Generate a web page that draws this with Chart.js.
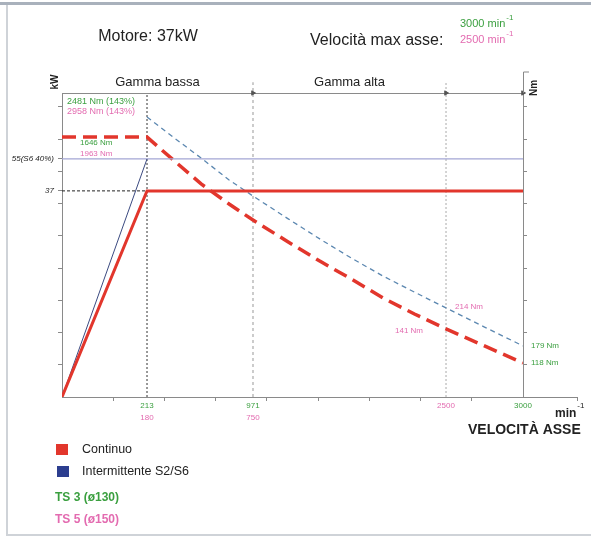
<!DOCTYPE html>
<html>
<head>
<meta charset="utf-8">
<script src="https://cdn.jsdelivr.net/npm/chart.js@4.4.0/dist/chart.umd.min.js"></script>
<style>
  html, body { margin: 0; padding: 0; background: #fff; }
  canvas { display: block; }
</style>
</head>
<body>
<canvas id="chart" width="591" height="537"></canvas>
<script>
// Testi
const motorLabel = "Motore: 37kW";
const maxSpeedLabel = "Velocità max asse:";
const maxSpeedTs3 = "3000 min";
const maxSpeedTs5 = "2500 min";
const rangeNames = ["Gamma bassa", "Gamma alta"];
const axisTitle = "VELOCITÀ ASSE";
const legendItems = ["Continuo", "Intermittente S2/S6"];
const seriesNames = ["TS 3 (ø130)", "TS 5 (ø150)"];

// Potenza (kW) in funzione della velocità (min-1)
const powerSpeed = [0, 213, 3000];
const powerCont = [0, 37, 37];
const powerS6 = [0, 55, 55];
const kwTicks = [37, 55];
const kwTickLabels = ["37", "55(S6 40%)"];

// Coppia (schema, % dell'altezza asse Nm)
const torqueSpeed = [0, 213, 400, 600, 800, 971, 1250, 1500, 1750, 2000, 2250, 2500, 2750, 3000];
const torqueCont = [85.5, 85.5, 78.0, 70.1, 63.5, 58.2, 51.0, 44.7, 38.8, 32.6, 27.3, 22.4, 16.8, 11.2];
const torqueS6 = [null, 92.1, 85.5, 78.6, 71.4, 66.1, 58.6, 52.0, 45.7, 39.8, 34.5, 29.3, 23.0, 16.8];

// Velocità notevoli
const rangeSpeeds = [213, 971, 2500, 3000];
const ts3SpeedAt = [213, 971, 3000];
const ts3SpeedLabels = ["213", "971", "3000"];
const ts5SpeedAt = [213, 971, 2500];
const ts5SpeedLabels = ["180", "750", "2500"];
const ts3Torque = ["2481 Nm (143%)", "1646 Nm", "179 Nm", "118 Nm"];
const ts5Torque = ["2958 Nm (143%)", "1963 Nm", "214 Nm", "141 Nm"];

const green = "#3a9f3f";
const pink = "#e36bb0";
const red = "#e2362c";
const font = "'Liberation Sans', Arial, sans-serif";

// scala a tratti (il disegno originale non è in scala)
const scaleBreaks = {
  x: { values: [0, 213, 971, 2500, 3000], decimals: [0, 0.1844, 0.4143, 0.833, 1] },
  y: { values: [0, 37, 55, 92], decimals: [0, 0.678, 0.783, 1] }
};

function interp(from, to, v) {
  let i = 1;
  while (i < from.length - 1 && v > from[i]) i++;
  return to[i - 1] + (v - from[i - 1]) * (to[i] - to[i - 1]) / (from[i] - from[i - 1]);
}

class SchemaScale extends Chart.LinearScale {
  getPixelForValue(value) {
    const b = scaleBreaks[this.id];
    return this.getPixelForDecimal(interp(b.values, b.decimals, value));
  }
  getValueForPixel(pixel) {
    const b = scaleBreaks[this.id];
    return interp(b.decimals, b.values, this.getDecimalForPixel(pixel));
  }
}
SchemaScale.id = "schema";
SchemaScale.defaults = Chart.LinearScale.defaults;
Chart.register(SchemaScale);

const xy = (xs, ys) => xs.map((v, i) => ({ x: v, y: ys[i] }));
const xMinor = [1, 2, 3, 4, 5, 6, 7, 8].map(k => k / 9);
const yMinor = [1, 2, 3, 4, 5, 6, 7, 8, 9].map(k => k * 0.106);

function text(ctx, s, x, y, size, color, align, weight) {
  ctx.font = (weight || "normal") + " " + size + "px " + font;
  ctx.fillStyle = color;
  ctx.textAlign = align || "left";
  ctx.fillText(s, x, y);
  return ctx.measureText(s).width;
}

const extras = {
  id: "extras",
  afterDraw(chart) {
    const { ctx, chartArea: a, scales } = chart;
    const X = v => scales.x.getPixelForValue(v);
    const Y2 = v => scales.y2.getPixelForValue(v);
    ctx.save();
    ctx.textBaseline = "middle";

    // cornice
    ctx.fillStyle = "#a9b1bc";
    ctx.fillRect(0, 2, 591, 3);
    ctx.strokeStyle = "#cfd3d8";
    ctx.lineWidth = 2;
    ctx.beginPath();
    ctx.moveTo(7, 5); ctx.lineTo(7, 535); ctx.lineTo(591, 535);
    ctx.stroke();

    // intestazione
    text(ctx, motorLabel, 148, 37, 16, "#222", "center");
    text(ctx, maxSpeedLabel, 310, 41, 16, "#222");
    let w = text(ctx, maxSpeedTs3, 460, 24, 11, green);
    text(ctx, "-1", 460 + w + 1, 18, 8, green);
    w = text(ctx, maxSpeedTs5, 460, 40, 11, pink);
    text(ctx, "-1", 460 + w + 1, 34, 8, pink);

    // gamme
    text(ctx, rangeNames[0], (X(0) + X(rangeSpeeds[1])) / 2, 82, 13, "#222", "center");
    text(ctx, rangeNames[1], (X(rangeSpeeds[1]) + X(rangeSpeeds[2])) / 2, 82, 13, "#222", "center");

    // prolungamenti assi
    ctx.strokeStyle = "#888";
    ctx.lineWidth = 1;
    ctx.beginPath();
    ctx.moveTo(a.right, a.bottom + 0.5); ctx.lineTo(577, a.bottom + 0.5);
    ctx.moveTo(577.5, a.bottom); ctx.lineTo(577.5, a.bottom + 4);
    ctx.moveTo(a.right + 0.5, a.top); ctx.lineTo(a.right + 0.5, 72); ctx.lineTo(a.right + 6, 72);
    ctx.stroke();

    // titoli assi
    ctx.save();
    ctx.translate(55, 82); ctx.rotate(-Math.PI / 2);
    text(ctx, "kW", 0, 0, 10, "#222", "center", "bold");
    ctx.restore();
    ctx.save();
    ctx.translate(534, 88); ctx.rotate(-Math.PI / 2);
    text(ctx, "Nm", 0, 0, 10, "#222", "center", "bold");
    ctx.restore();

    // etichette velocità
    ts3SpeedAt.forEach((v, i) => text(ctx, ts3SpeedLabels[i], X(v), 406, 8, green, "center"));
    ts5SpeedAt.forEach((v, i) => {
      const row = ts3SpeedAt.includes(v) ? 418 : 406;
      text(ctx, ts5SpeedLabels[i], X(v), row, 8, pink, "center");
    });
    w = text(ctx, "min", 555, 414, 12, "#222", "left", "bold");
    text(ctx, "-1", 555 + w + 1, 406, 8, "#222");
    text(ctx, axisTitle, 468, 430, 14, "#222", "left", "bold");

    // etichette coppia
    const i25 = torqueSpeed.indexOf(2500);
    const last = torqueSpeed.length - 1;
    text(ctx, ts3Torque[0], X(0) + 5, Y2(torqueS6[1]) - 16, 9, green);
    text(ctx, ts5Torque[0], X(0) + 5, Y2(torqueS6[1]) - 6, 9, pink);
    text(ctx, ts3Torque[1], X(0) + 18, Y2(torqueCont[0]) + 6, 8, green);
    text(ctx, ts5Torque[1], X(0) + 18, Y2(torqueCont[0]) + 17, 8, pink);
    text(ctx, ts5Torque[2], X(2500) + 9, Y2(torqueS6[i25]) - 1, 8, pink);
    text(ctx, ts5Torque[3], X(2500) - 23, Y2(torqueCont[i25]) + 2, 8, pink, "right");
    text(ctx, ts3Torque[2], X(3000) + 8, Y2(torqueS6[last]), 8, green);
    text(ctx, ts3Torque[3], X(3000) + 8, Y2(torqueCont[last]), 8, green);

    // legenda
    ctx.fillStyle = red;
    ctx.fillRect(56, 444, 12, 11);
    ctx.fillStyle = "#2c3e8f";
    ctx.fillRect(57, 466, 12, 11);
    text(ctx, legendItems[0], 82, 450, 12.5, "#222");
    text(ctx, legendItems[1], 82, 472, 12.5, "#222");
    text(ctx, seriesNames[0], 55, 498, 12, green, "left", "bold");
    text(ctx, seriesNames[1], 55, 520, 12, pink, "left", "bold");
    ctx.restore();
  }
};

const axisGrey = "#8a8a8a";

new Chart(document.getElementById("chart"), {
  type: "line",
  data: {
    datasets: [
      { data: xy(powerSpeed, powerCont), yAxisID: "y", borderColor: red, borderWidth: 3 },
      { data: xy(powerSpeed.slice(0, 2), powerS6.slice(0, 2)), yAxisID: "y", borderColor: "#3b4a80", borderWidth: 1 },
      { data: [{ x: 0, y: powerS6[1] }, { x: 3000, y: powerS6[2] }], yAxisID: "y", borderColor: "#a3a6d4", borderWidth: 1.2 },
      { data: [{ x: 0, y: powerCont[1] }, { x: powerSpeed[1], y: powerCont[1] }], yAxisID: "y", borderColor: "#222", borderWidth: 1, borderDash: [3, 2] },
      { data: xy(torqueSpeed, torqueCont), yAxisID: "y2", borderColor: red, borderWidth: 3.5, borderDash: [14, 7] },
      { data: xy(torqueSpeed, torqueS6), yAxisID: "y2", borderColor: "#5b87b0", borderWidth: 1.3, borderDash: [5, 4] },
      { data: rangeSpeeds.slice(1).map(v => ({ x: v, y: 100 })), yAxisID: "y2", showLine: false, clip: false,
        pointRadius: 2.5, pointStyle: "triangle", rotation: 90, pointBackgroundColor: "#555", pointBorderColor: "#555" },
      { data: [{ x: rangeSpeeds[0], y: 0 }, { x: rangeSpeeds[0], y: 100 }], yAxisID: "y2", borderColor: "#333", borderWidth: 1, borderDash: [2, 2] },
      { data: [{ x: rangeSpeeds[1], y: 0 }, { x: rangeSpeeds[1], y: 103.5 }], yAxisID: "y2", clip: false, borderColor: "#999", borderWidth: 1, borderDash: [3, 3] },
      { data: [{ x: rangeSpeeds[2], y: 0 }, { x: rangeSpeeds[2], y: 103.5 }], yAxisID: "y2", clip: false, borderColor: "#aaa", borderWidth: 1, borderDash: [2, 2] }
    ]
  },
  options: {
    responsive: false,
    animation: false,
    layout: { padding: 0 },
    elements: { point: { radius: 0 }, line: { tension: 0, fill: false } },
    plugins: { legend: { display: false }, tooltip: { enabled: false } },
    scales: {
      x: {
        type: "schema", position: "bottom", min: 0, max: 3000,
        afterBuildTicks: s => { s.ticks = xMinor.map(d => ({ value: interp(scaleBreaks.x.decimals, scaleBreaks.x.values, d) })); },
        ticks: { display: false },
        grid: { drawOnChartArea: false, tickLength: 4, color: axisGrey },
        border: { color: axisGrey },
        afterFit: s => { s.height = 140; }
      },
      x2: {
        type: "linear", position: "top", min: 0, max: 1,
        ticks: { display: false },
        grid: { display: false },
        border: { color: axisGrey },
        afterFit: s => { s.height = 93; }
      },
      y: {
        type: "schema", position: "left", min: 0, max: 92,
        afterBuildTicks: s => {
          const t = yMinor.map(d => interp(scaleBreaks.y.decimals, scaleBreaks.y.values, d)).concat(kwTicks);
          s.ticks = t.sort((p, q) => p - q).map(v => ({ value: v }));
        },
        ticks: {
          autoSkip: false, padding: 4, color: "#222",
          font: { size: 8, style: "italic", family: font },
          callback: v => { const i = kwTicks.indexOf(v); return i >= 0 ? kwTickLabels[i] : ""; }
        },
        grid: { drawOnChartArea: false, tickLength: 4, color: axisGrey },
        border: { color: axisGrey },
        afterFit: s => { s.width = 62; }
      },
      y2: {
        type: "linear", position: "right", min: 0, max: 100,
        afterBuildTicks: s => { s.ticks = yMinor.map(d => ({ value: d * 100 })); },
        ticks: { display: false },
        grid: { drawOnChartArea: false, tickLength: 4, color: axisGrey },
        border: { color: axisGrey },
        afterFit: s => { s.width = 68; }
      }
    }
  },
  plugins: [extras]
});
</script>
</body>
</html>
